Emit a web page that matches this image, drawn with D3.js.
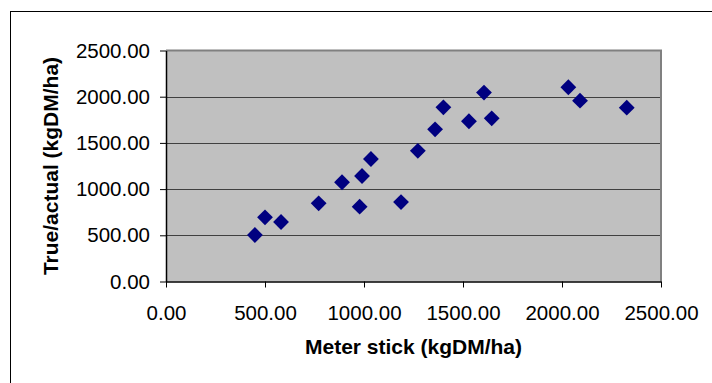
<!DOCTYPE html>
<html>
<head>
<meta charset="utf-8">
<script src="https://cdn.jsdelivr.net/npm/d3@7"></script>
<style>
  body { margin: 0; background: #fff; }
  svg { display: block; font-family: Arial, "Liberation Sans", sans-serif; }
</style>
</head>
<body>
<svg></svg>
<script>
let width = 712, height = 383;

// data
const meterStick = [449, 500, 581, 771, 889, 978, 990, 1035, 1187, 1272, 1359, 1401, 1530, 1606, 1645, 2032, 2091, 2327];
const actual     = [503, 695, 644, 846, 1074, 810, 1142, 1326, 860, 1414, 1647, 1885, 1734, 2045, 1766, 2102, 1957, 1881];
const xTicks = [0, 500, 1000, 1500, 2000, 2500];
const yTicks = [0, 500, 1000, 1500, 2000, 2500];

let svg = d3.select("svg")
    .attr("width", width)
    .attr("height", height);

// outer chart frame (right/bottom edges fall outside the window)
svg.append("rect")
    .attr("x", 10.5).attr("y", 11.5)
    .attr("width", 720).attr("height", 400)
    .attr("fill", "white")
    .attr("stroke", "black")
    .attr("stroke-width", 1);

let plot = { left: 166, right: 661, top: 50.5, bottom: 281.5 };

let x = d3.scaleLinear().domain([0, 2500]).range([plot.left, plot.right]);
let y = d3.scaleLinear().domain([0, 2500]).range([plot.bottom, plot.top]);

// plot area
svg.append("rect")
    .attr("x", plot.left).attr("y", plot.top)
    .attr("width", plot.right - plot.left)
    .attr("height", plot.bottom - plot.top)
    .attr("fill", "#c0c0c0");

// gridlines
svg.append("g")
    .selectAll("line")
    .data(yTicks.filter(d => d > 0 && d < 2500))
    .enter().append("line")
    .attr("x1", plot.left).attr("x2", plot.right)
    .attr("y1", d => Math.round(y(d)) + 0.5)
    .attr("y2", d => Math.round(y(d)) + 0.5)
    .attr("stroke", "#404040")
    .attr("stroke-width", 1);

// top and right border of plot area
svg.append("path")
    .attr("d", "M" + plot.left + "," + plot.top + "H" + plot.right + "V" + plot.bottom)
    .attr("fill", "none")
    .attr("stroke", "#808080")
    .attr("stroke-width", 2);

// axes
let xAxis = svg.append("g")
    .attr("transform", "translate(0," + plot.bottom + ")")
    .call(d3.axisBottom(x).tickValues(xTicks).tickFormat(d3.format(".2f")).tickSizeInner(6).tickSizeOuter(0).tickPadding(18));

let yAxis = svg.append("g")
    .attr("transform", "translate(" + plot.left + ",0)")
    .call(d3.axisLeft(y).tickValues(yTicks).tickFormat(d3.format(".2f")).tickSizeInner(6).tickSizeOuter(0).tickPadding(10));

[xAxis, yAxis].forEach(a => {
    a.selectAll("text")
        .style("font-size", "20.5px")
        .style("font-family", "Arial, 'Liberation Sans', sans-serif")
        .attr("fill", "black");
    a.selectAll("line").attr("stroke", "black");
    a.select(".domain").attr("stroke", "black").attr("stroke-width", 1.5);
});

// markers
svg.append("g")
    .selectAll("path")
    .data(meterStick.map((d, i) => [d, actual[i]]))
    .enter().append("path")
    .attr("d", d3.symbol(d3.symbolSquare, 125))
    .attr("transform", d => "translate(" + x(d[0]) + "," + y(d[1]) + ") rotate(45)")
    .attr("fill", "#000080");

// axis titles
svg.append("text")
    .attr("x", (plot.left + plot.right) / 2)
    .attr("y", 354)
    .attr("text-anchor", "middle")
    .style("font-size", "21px")
    .style("font-weight", "bold")
    .text("Meter stick (kgDM/ha)");

svg.append("text")
    .attr("transform", "translate(58," + ((plot.top + plot.bottom) / 2) + ") rotate(-90)")
    .attr("text-anchor", "middle")
    .style("font-size", "21px")
    .style("font-weight", "bold")
    .text("True/actual (kgDM/ha)");
</script>
</body>
</html>
